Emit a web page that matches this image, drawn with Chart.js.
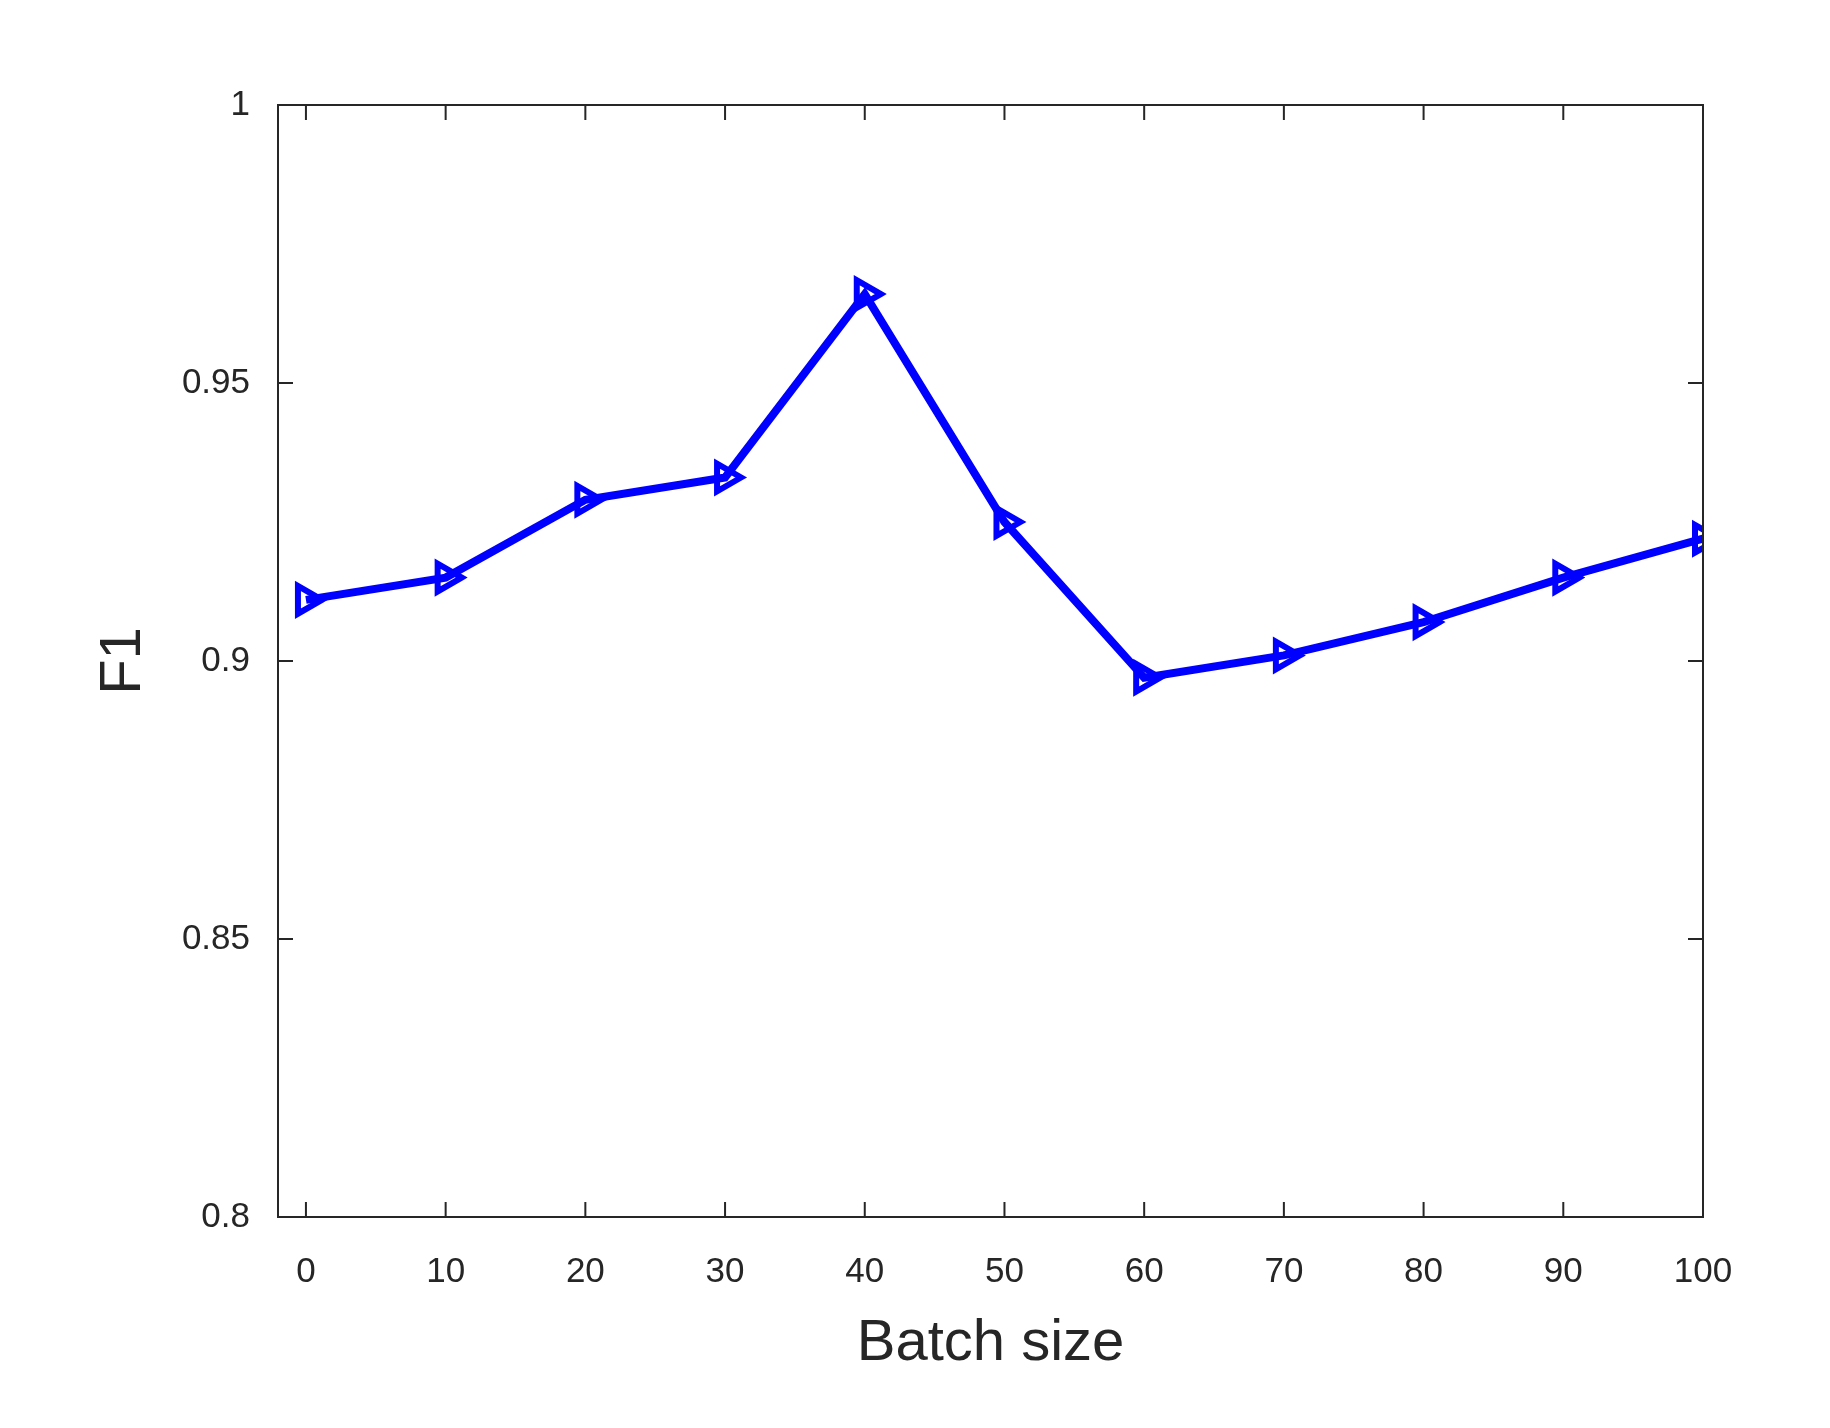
<!DOCTYPE html>
<html>
<head>
<meta charset="utf-8">
<script src="https://cdn.jsdelivr.net/npm/chart.js@4"></script>
<style>
  html, body { margin: 0; padding: 0; background: #fff; }
  #wrap { width: 1830px; height: 1428px; }
</style>
</head>
<body>
<div id="wrap"><canvas id="f1Chart" width="1830" height="1428"></canvas></div>
<script>
var batchSizes = [0, 10, 20, 30, 40, 50, 60, 70, 80, 90, 100];
var f1Values = [0.911, 0.915, 0.929, 0.933, 0.966, 0.925, 0.897, 0.901, 0.907, 0.915, 0.922];
var xTicks = [0, 10, 20, 30, 40, 50, 60, 70, 80, 90, 100];
var yTicks = [0.8, 0.85, 0.9, 0.95, 1];

var axisColor = '#262626';
var fontName = '"Liberation Sans", Arial, sans-serif';

// box around the plot, inward ticks on all four sides, axis titles
var framePlugin = {
  id: 'frame',
  afterDraw: function (chart) {
    var c = chart.ctx, a = chart.chartArea;
    var xs = chart.scales.x, ys = chart.scales.y;
    c.save();
    c.strokeStyle = axisColor;
    c.lineWidth = 2;
    c.strokeRect(a.left, a.top, a.right - a.left, a.bottom - a.top);
    var t = 15;
    xTicks.forEach(function (v) {
      var px = xs.getPixelForValue(v);
      c.beginPath();
      c.moveTo(px, a.bottom); c.lineTo(px, a.bottom - t);
      c.moveTo(px, a.top); c.lineTo(px, a.top + t);
      c.stroke();
    });
    yTicks.forEach(function (v) {
      var py = ys.getPixelForValue(v);
      c.beginPath();
      c.moveTo(a.left, py); c.lineTo(a.left + t, py);
      c.moveTo(a.right, py); c.lineTo(a.right - t, py);
      c.stroke();
    });
    c.fillStyle = axisColor;
    c.font = '58px ' + fontName;
    c.textAlign = 'center';
    c.textBaseline = 'middle';
    c.fillText('Batch size', (a.left + a.right) / 2, 1344);
    c.translate(124, (a.top + a.bottom) / 2);
    c.rotate(-Math.PI / 2);
    c.fillText('F1', 0, 0);
    c.restore();
  }
};

new Chart(document.getElementById('f1Chart'), {
  type: 'line',
  data: {
    datasets: [{
      data: batchSizes.map(function (b, i) { return { x: b, y: f1Values[i] }; }),
      borderColor: '#0000ff',
      borderWidth: 8,
      pointStyle: 'triangle',
      rotation: 90,
      pointRadius: 16,
      pointBorderWidth: 6,
      pointBackgroundColor: 'rgba(0,0,0,0)',
      pointBorderColor: '#0000ff',
      tension: 0
    }]
  },
  options: {
    responsive: false,
    animation: false,
    layout: { padding: { left: 0, right: 127, top: 105, bottom: 0 } },
    plugins: { legend: { display: false }, tooltip: { enabled: false } },
    scales: {
      x: {
        type: 'linear',
        min: -2,
        max: 100,
        afterBuildTicks: function (s) { s.ticks = xTicks.map(function (v) { return { value: v }; }); },
        afterFit: function (s) { s.height = 211; },
        grid: { display: false },
        border: { display: false },
        ticks: { color: axisColor, font: { size: 35, family: fontName }, padding: 26, maxRotation: 0 }
      },
      y: {
        min: 0.8,
        max: 1,
        afterBuildTicks: function (s) { s.ticks = yTicks.map(function (v) { return { value: v }; }); },
        afterFit: function (s) { s.width = 278; },
        grid: { display: false },
        border: { display: false },
        ticks: {
          color: axisColor, font: { size: 35, family: fontName }, padding: 20,
          callback: function (v) { return String(v); }
        }
      }
    }
  },
  plugins: [framePlugin]
});
</script>
</body>
</html>
